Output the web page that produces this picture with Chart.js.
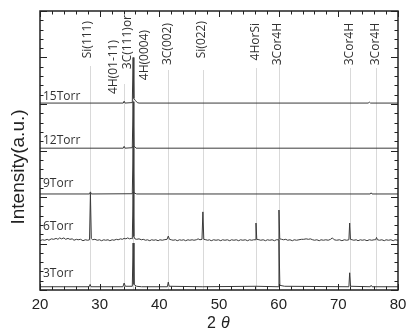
<!DOCTYPE html>
<html>
<head>
<meta charset="utf-8">
<script src="https://cdn.jsdelivr.net/npm/chart.js@4.4.1/dist/chart.umd.min.js"></script>
<style>
  html, body { margin: 0; padding: 0; background: #fff; }
  #wrap { width: 406px; height: 331px; }
</style>
</head>
<body>
<div id="wrap"><canvas id="myChart" width="406" height="331"></canvas></div>
<script>
// XRD patterns, offset vertically (a.u.)
const seriesNames = ["3Torr", "6Torr", "9Torr", "12Torr", "15Torr"];

const torr3 = [[20,0.07],[24,0.07],[28.25,0.07],[28.4,0.12],[28.55,0.07],[33.9,0.07],[34.1,0.15],[34.3,0.08],
  [35.47,0.08],[35.6,1.01],[35.75,0.12],[36.2,0.08],[37,0.07],[41.35,0.07],[41.5,0.17],[41.65,0.08],[47.3,0.07],
  [56.2,0.08],[59.92,0.07],[60.05,1.08],[60.2,0.1],[61,0.08],[71.77,0.07],[71.9,0.37],[72.05,0.08],
  [75.35,0.07],[75.5,0.1],[75.65,0.07],[80,0.07]];

const torr6 = [[20,1.06],[20.4,1.08],[20.8,1.07],[21.2,1.09],[21.5,1.07],[21.9,1.1],[22.3,1.09],[22.7,1.11],[23,1.09],
  [23.3,1.12],[23.6,1.1],[24,1.12],[24.3,1.09],[24.7,1.11],[25,1.09],[25.4,1.1],[25.7,1.07],[26.1,1.09],[26.4,1.08],
  [26.8,1.09],[27.2,1.06],[27.6,1.08],[28.0,1.07],[28.3,1.08],[28.45,2.08],[28.6,1.11],[28.8,1.08],[29.2,1.09],
  [29.6,1.07],[30,1.08],[30.3,1.06],[30.7,1.08],[31,1.07],[31.4,1.08],[31.7,1.06],[32.1,1.08],[32.4,1.07],
  [32.8,1.09],[33.1,1.08],[33.5,1.1],[33.8,1.09],[34.1,1.11],[34.4,1.1],[34.7,1.12],[35.0,1.1],[35.3,1.11],
  [35.47,1.1],[35.6,2.1],[35.73,1.15],[35.9,1.1],[36.2,1.09],[36.6,1.1],[37,1.08],[37.3,1.09],[37.7,1.07],
  [38,1.08],[38.4,1.06],[38.7,1.08],[39.1,1.07],[39.4,1.08],[39.8,1.06],[40.1,1.08],[40.5,1.07],[40.8,1.08],
  [41.3,1.09],[41.5,1.16],[41.7,1.09],[42,1.08],[42.3,1.07],[42.7,1.08],[43,1.06],[43.4,1.08],[43.7,1.07],
  [44.1,1.08],[44.4,1.06],[44.8,1.08],[45.1,1.07],[45.5,1.08],[45.8,1.07],[46.2,1.08],[46.5,1.1],[46.8,1.08],
  [47.15,1.09],[47.3,1.68],[47.45,1.09],[47.8,1.08],[48.1,1.07],[48.4,1.08],[48.7,1.06],[49.1,1.08],[49.5,1.07],
  [49.9,1.08],[50.3,1.06],[50.6,1.08],[51,1.07],[51.4,1.08],[51.8,1.06],[52.1,1.08],[52.5,1.07],[52.9,1.08],
  [53.3,1.06],[53.6,1.08],[54,1.07],[54.4,1.08],[54.8,1.06],[55.1,1.08],[55.5,1.07],[55.8,1.08],[56.07,1.08],
  [56.2,1.44],[56.33,1.09],[56.7,1.08],[57,1.07],[57.4,1.08],[57.8,1.06],[58.1,1.08],[58.5,1.07],[58.9,1.08],
  [59.3,1.06],[59.6,1.08],[59.92,1.08],[60.05,1.72],[60.18,1.1],[60.5,1.09],[60.8,1.08],[61.2,1.09],[61.5,1.07],
  [61.9,1.08],[62.3,1.06],[62.6,1.08],[63,1.07],[63.4,1.08],[63.8,1.09],[64.2,1.09],[64.6,1.1],[65,1.09],
  [65.3,1.1],[65.7,1.08],[66,1.07],[66.4,1.08],[66.8,1.06],[67.1,1.08],[67.5,1.07],[67.9,1.08],[68.3,1.07],
  [68.7,1.09],[69.0,1.12],[69.3,1.08],[69.7,1.07],[70.2,1.08],[70.6,1.06],[71,1.08],[71.4,1.07],[71.77,1.08],
  [71.9,1.44],[72.03,1.09],[72.3,1.08],[72.6,1.07],[73,1.08],[73.3,1.06],[73.7,1.08],[74,1.07],[74.4,1.08],
  [74.8,1.06],[75.2,1.08],[75.6,1.07],[76,1.08],[76.25,1.08],[76.4,1.13],[76.55,1.08],[76.9,1.07],[77.3,1.08],
  [77.7,1.06],[78,1.08],[78.4,1.07],[78.8,1.08],[79.2,1.06],[79.5,1.08],[80,1.07]];

const torr9 = [[20,2.065],[28.3,2.065],[28.45,2.11],[28.6,2.065],[35.47,2.07],[35.6,3.1],[35.73,2.09],[36.2,2.065],
  [75.35,2.065],[75.5,2.09],[75.65,2.065],[80,2.065]];

const torr12 = [[20,3.05],[33.95,3.05],[34.1,3.09],[34.25,3.05],[35.47,3.06],[35.6,4.05],[35.73,3.1],[35.9,3.08],
  [36.1,3.05],[80,3.05]];

const torr15 = [[20,4.02],[33.95,4.02],[34.1,4.06],[34.25,4.02],[35.47,4.03],[35.6,5.0],[35.73,4.12],[35.95,4.08],
  [36.3,4.03],[36.6,4.02],[75,4.02],[75.2,4.04],[75.4,4.02],[80,4.02]];

const peakNames = ["Si(111)", "4H(01-11)", "3C(111)or", "4H(0004)", "3C(002)", "Si(022)", "4HorSi", "3Cor4H", "3Cor4H", "3Cor4H"];
const peakLabelX = [28.05, 32.25, 34.6, 37.45, 41.45, 47.15, 56.05, 59.9, 71.95, 76.3];
const refLines = [28.4, 34.1, 35.6, 41.5, 47.3, 56.2, 60.05, 72.0, 76.35];

const xTickLabels = [20, 30, 40, 50, 60, 70, 80];

const allSeries = [torr3, torr6, torr9, torr12, torr15];

// layout bits (pixels)
const labelTop = [21, 40, 15, 30, 23, 21, 23, 23, 23, 23];
const lineTop = [66, 84, 88, 70, 70, 68, 55, 68, 68, 68];
const nameLift = [10, 11, 7, 4, 3];

const decor = {
  id: 'decor',
  beforeDatasetsDraw(chart) {
    const ctx = chart.ctx, a = chart.chartArea, xs = chart.scales.x;
    ctx.save();
    ctx.strokeStyle = '#d9d9d9';
    ctx.lineWidth = 1;
    refLines.forEach((v, i) => {
      const px = Math.round(xs.getPixelForValue(v)) + 0.5;
      ctx.beginPath();
      ctx.moveTo(px, lineTop[i]);
      ctx.lineTo(px, a.bottom);
      ctx.stroke();
    });
    ctx.restore();
  },
  afterDraw(chart) {
    const ctx = chart.ctx, a = chart.chartArea, xs = chart.scales.x, ys = chart.scales.y;
    ctx.save();
    // frame
    ctx.strokeStyle = '#222';
    ctx.lineWidth = 1.5;
    ctx.strokeRect(a.left, a.top, a.right - a.left, a.bottom - a.top);

    // inward ticks
    ctx.lineWidth = 1;
    for (let v = 20; v <= 80.001; v += 2) {
      const px = Math.round(xs.getPixelForValue(v)) + 0.5;
      const len = (Math.round(v) % 10 === 0) ? 6 : 3.5;
      ctx.beginPath();
      ctx.moveTo(px, a.bottom); ctx.lineTo(px, a.bottom - len);
      ctx.moveTo(px, a.top); ctx.lineTo(px, a.top + len);
      ctx.stroke();
    }
    for (let k = 0; k <= 30; k++) {
      const v = k * 0.2;
      const py = Math.round(ys.getPixelForValue(v)) + 0.5;
      const len = (k % 5 === 0) ? 7 : 3.5;
      ctx.beginPath();
      ctx.moveTo(a.left, py); ctx.lineTo(a.left + len, py);
      ctx.moveTo(a.right, py); ctx.lineTo(a.right - len, py);
      ctx.stroke();
    }

    // x tick labels
    ctx.fillStyle = '#222';
    ctx.font = '15px "Liberation Sans", Arial, sans-serif';
    ctx.textAlign = 'center';
    ctx.textBaseline = 'top';
    xTickLabels.forEach(v => ctx.fillText(String(v), xs.getPixelForValue(v), a.bottom + 7));

    // x title: 2 θ
    const cx = (a.left + a.right) / 2;
    ctx.textBaseline = 'alphabetic';
    ctx.textAlign = 'left';
    ctx.font = '16px "Liberation Sans", Arial, sans-serif';
    ctx.fillText('2', cx - 12, 328);
    ctx.font = 'italic 16px "Liberation Sans", Arial, sans-serif';
    ctx.fillText('θ', cx + 2, 328);

    // y title
    ctx.save();
    ctx.translate(19, 167);
    ctx.rotate(-Math.PI / 2);
    ctx.font = '19px "Liberation Sans", Arial, sans-serif';
    ctx.textAlign = 'center';
    ctx.textBaseline = 'middle';
    ctx.fillText('Intensity(a.u.)', 0, 0);
    ctx.restore();

    // series names
    ctx.fillStyle = '#333';
    ctx.font = '12px "Open Sans", sans-serif';
    ctx.textAlign = 'left';
    ctx.textBaseline = 'alphabetic';
    seriesNames.forEach((n, i) => {
      const py = ys.getPixelForValue(allSeries[i][0][1]);
      ctx.fillText(n, a.left + 3, py - nameLift[i]);
    });

    // peak labels
    peakNames.forEach((n, i) => {
      ctx.save();
      ctx.translate(xs.getPixelForValue(peakLabelX[i]), labelTop[i]);
      ctx.rotate(-Math.PI / 2);
      ctx.textAlign = 'right';
      ctx.textBaseline = 'middle';
      ctx.fillText(n, 0, 0);
      ctx.restore();
    });
    ctx.restore();
  }
};

const ctx = document.getElementById('myChart').getContext('2d');
const myChart = new Chart(ctx, {
  type: 'line',
  data: {
    datasets: allSeries.map((s, i) => ({
      label: seriesNames[i],
      data: s.map(p => ({ x: p[0], y: p[1] })),
      borderColor: '#3a3a3a',
      borderWidth: 1,
      pointRadius: 0,
      tension: 0,
      fill: false
    }))
  },
  options: {
    responsive: false,
    animation: false,
    layout: { padding: { left: 40, top: 11, right: 8, bottom: 41 } },
    plugins: { legend: { display: false }, tooltip: { enabled: false } },
    scales: {
      x: { type: 'linear', min: 20, max: 80, display: false },
      y: { type: 'linear', min: 0, max: 6, display: false }
    }
  },
  plugins: [decor]
});
</script>
</body>
</html>
